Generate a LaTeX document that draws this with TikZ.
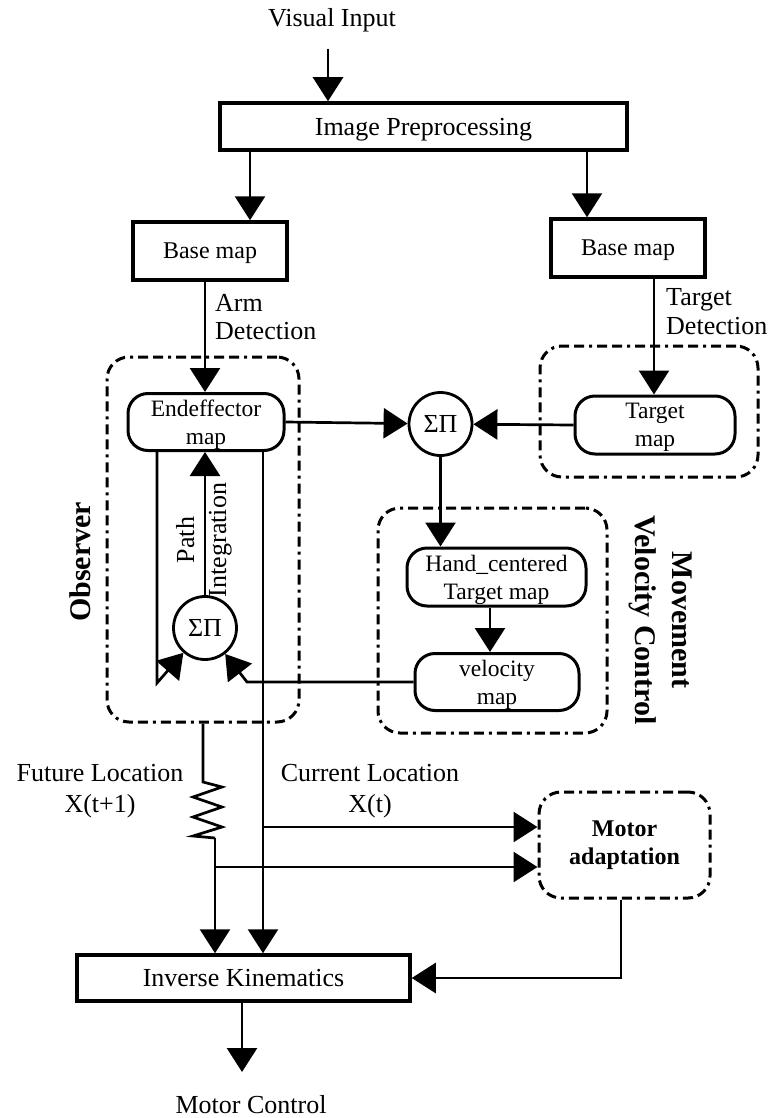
\documentclass[tikz,border=0pt]{standalone}
\usepackage{fontspec}
\setmainfont{Liberation Serif}
\usetikzlibrary{arrows.meta,calc}

\tikzset{
  lbl/.style={font=\fontsize{26}{31}\selectfont, align=center, inner sep=0pt},
  box/.style={draw, line width=3.5pt, inner sep=0pt, text depth=0pt, font=\fontsize{26}{30}\selectfont},
  sbox/.style={draw, line width=3.5pt, inner sep=0pt, text depth=0pt, font=\fontsize{24}{28}\selectfont, align=center},
  rbox/.style={draw, line width=3pt, inner sep=0pt, rounded corners=20pt, text depth=0pt,
               font=\fontsize{23.5}{28}\selectfont, align=center},
  grp/.style={draw, line width=3pt, rounded corners=22pt, inner sep=0pt,
              dash pattern=on 10pt off 5pt on 10pt off 5pt on 3pt off 5pt},
  sum/.style={draw, circle, line width=2.8pt, minimum size=63pt, inner sep=0pt,
              font=\fontsize{26}{30}\selectfont},
  conn/.style={line width=2.7pt},
  arr/.style={conn, -{Triangle[width=30pt,length=24pt]}},
  heading/.style={font=\fontsize{30}{37}\bfseries\selectfont, align=center, inner sep=0pt},
}

\begin{document}
\begin{tikzpicture}[x=1pt,y=-1pt]
\useasboundingbox (0,0) rectangle (770,1118);

% group frames
\node[grp, minimum width=192pt, minimum height=365pt] (obs) at (203,539.5) {};
\node[grp, minimum width=218pt, minimum height=131pt] (tg) at (649,411.5) {};
\node[grp, minimum width=229pt, minimum height=225pt] (vg) at (492.5,620.5) {};
\node[grp, minimum width=171pt, minimum height=106pt, font=\fontsize{24}{28}\bfseries\selectfont, align=center]
  (ma) at (624.5,845) {Motor\\adaptation};

% boxes
\node[lbl] (vin) at (332,20) {Visual Input};
\node[box, minimum width=407pt, minimum height=47pt] (ip) at (423.5,126.5) {Image Preprocessing};
\node[sbox, minimum width=154pt, minimum height=58pt] (bl) at (210,251) {Base map};
\node[sbox, minimum width=154pt, minimum height=58pt] (br) at (628,248) {Base map};
\node[rbox, minimum width=156pt, minimum height=57pt] (ee) at (206,422) {Endeffector\\map};
\node[rbox, minimum width=160pt, minimum height=58pt] (tm) at (655,425) {Target\\map};
\node[sum] (sc) at (440.5,424) {ΣΠ};
\node[rbox, minimum width=179pt, minimum height=58pt] (hc) at (496.5,577) {Hand\_centered\\Target map};
\node[rbox, minimum width=164pt, minimum height=57pt] (vm) at (497,682) {velocity\\map};
\node[sum] (so) at (205,628) {ΣΠ};
\node[box, minimum width=333pt, minimum height=46pt] (ik) at (243.5,978) {Inverse Kinematics};
\node[lbl] (mc) at (251,1105) {Motor Control};

% labels
\node[lbl, anchor=west, align=left, font=\fontsize{26}{28}\selectfont] (armd) at (215,317) {Arm\\Detection};
\node[lbl, anchor=west, align=left, font=\fontsize{26}{29}\selectfont] (tgtd) at (666,312) {Target\\Detection};
\node[heading, rotate=90] (obsl) at (80,562) {Observer};
\node[heading, rotate=-90] (mvc) at (661,620) {Movement\\Velocity Control};
\node[lbl, rotate=90, font=\fontsize{26}{32}\selectfont] (pint) at (204,540) {Path\\Integration};
\node[lbl] (fut) at (100,791) {Future Location\\X(t+1)};
\node[lbl] (cur) at (370,791) {Current Location\\X(t)};

% junction points
\coordinate (vi) at (328,49);
\coordinate (lk) at (157,683);
\coordinate (vk) at (247,683);
\coordinate (zt) at (203,782);
\coordinate (zb) at (215,838);
\coordinate (j1) at (263,827);
\coordinate (j2) at (215,867);
\coordinate (mk) at (621,978);
\coordinate (mo) at (242,1072);

% connectors
\draw[arr] (vi) -- (vi |- ip.north);
\draw[arr] (250,0 |- ip.south) -- (250,0 |- bl.north);
\draw[arr] (587,0 |- ip.south) -- (587,0 |- br.north);
\draw[arr] (205,0 |- bl.south) -- (205,0 |- ee.north);
\draw[arr] (654,0 |- br.south) -- (654,0 |- tm.north);
\draw[arr] (ee.east) -- (sc);
\draw[arr] (tm.west) -- (sc);
\draw[arr] (sc.south) -- (sc.south |- hc.north);
\draw[arr] (490,0 |- hc.south) -- (490,0 |- vm.north);
\draw[arr] (vm.west) -- (vm.west -| vk) -- (so);
\draw[arr] (lk |- ee.south) -- (lk) -- (so);
\draw[arr] (so.north) -- (so.north |- ee.south);
\draw[arr] (263,0 |- ee.south) -- (263,0 |- ik.north);
\draw[conn] (zt |- obs.south) -- (zt) -- ++(19,5) -- ++(-29,10) -- ++(29,10) -- ++(-29,10)
  -- ++(29,10) -- ++(-29,9) -- (zb);
\draw[arr] (zb) -- (zb |- ik.north);
\draw[arr] (j1) -- (j1 -| ma.west);
\draw[arr] (j2) -- (j2 -| ma.west);
\draw[arr] (mk |- ma.south) -- (mk) -- (ik.east);
\draw[arr] (mo |- ik.south) -- (mo);
\end{tikzpicture}
\end{document}
